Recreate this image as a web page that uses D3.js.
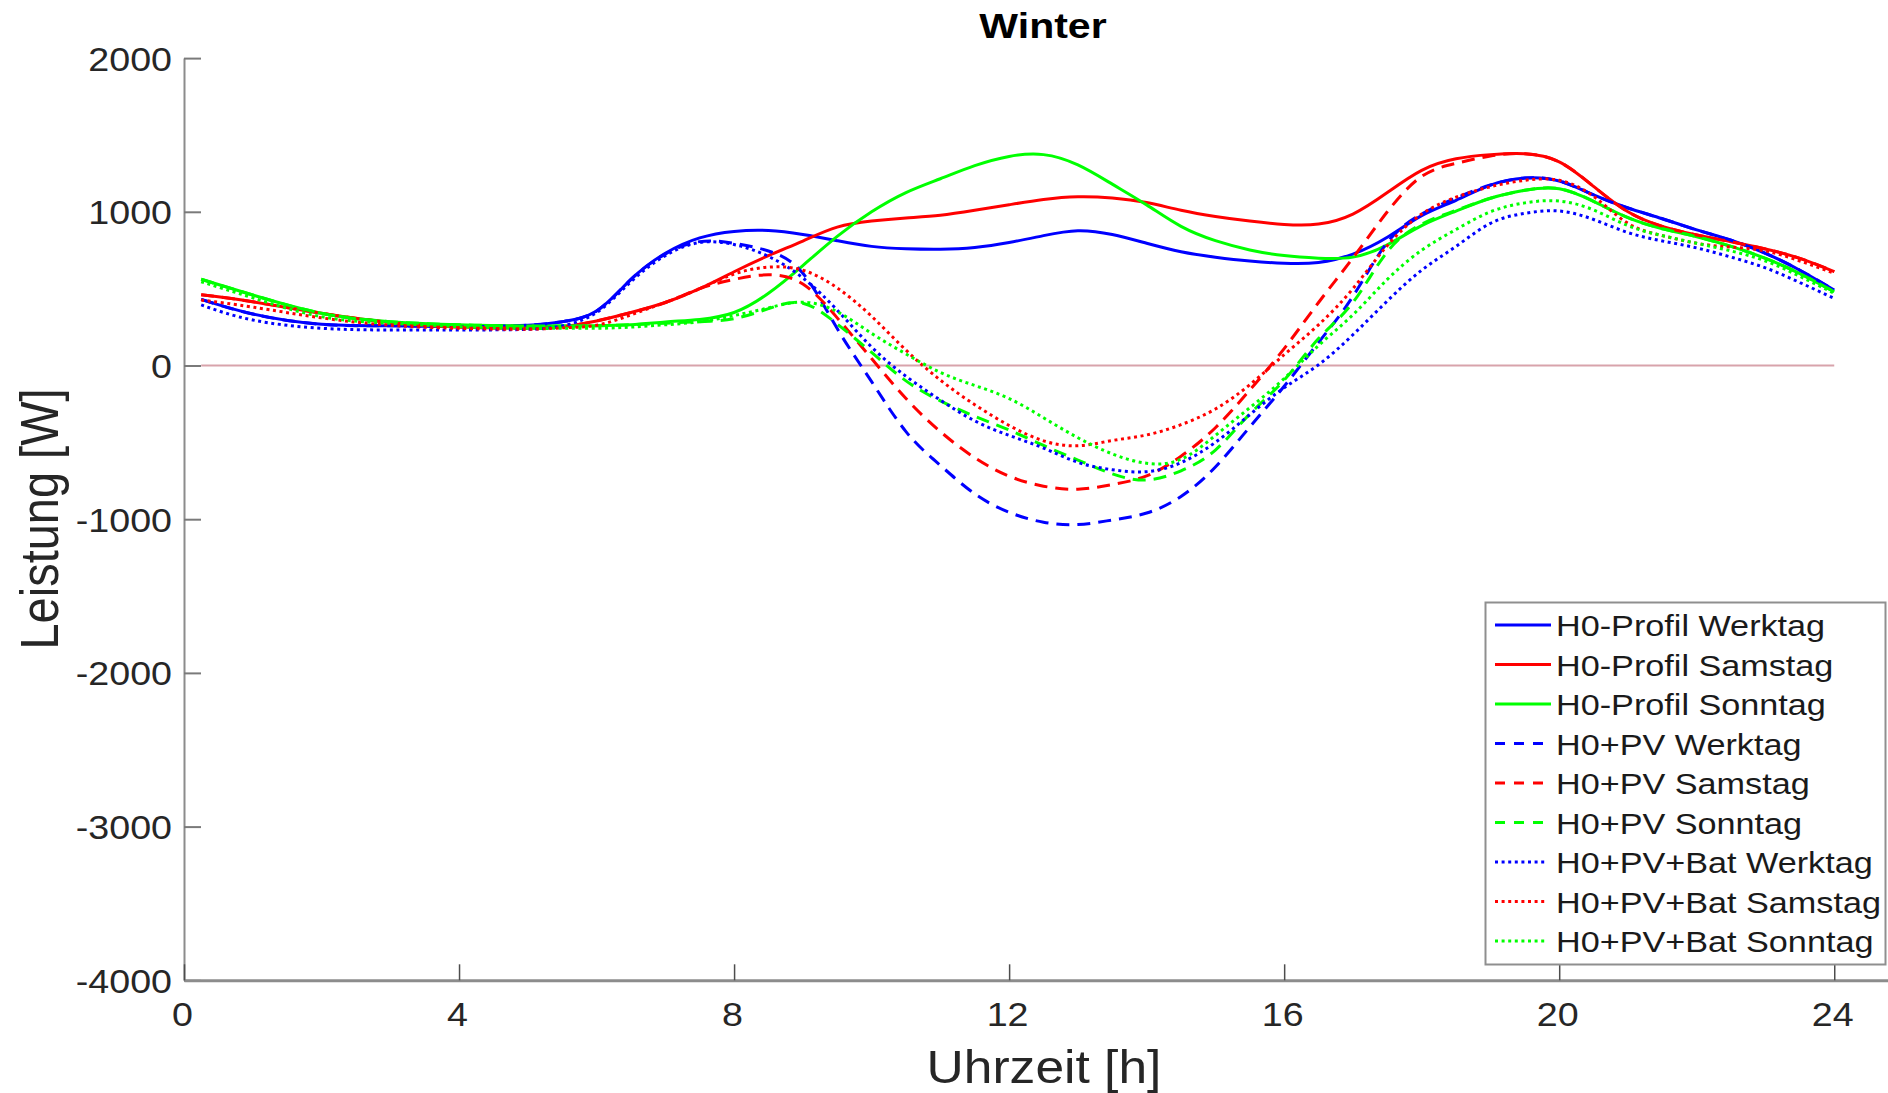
<!DOCTYPE html>
<html>
<head>
<meta charset="utf-8">
<script src="https://cdn.jsdelivr.net/npm/d3@7"></script>
<style>
  html, body { margin: 0; padding: 0; background: #fff; }
  svg { display: block; font-family: "Liberation Sans", Arial, Helvetica, sans-serif; }
</style>
</head>
<body>
<svg id="chart" width="1888" height="1093"></svg>
<script>
// Time of day [h], quarter-hour start to midnight
const hours = [0.25, 1, 2, 3, 4, 5, 5.5, 6, 6.5, 7, 7.5, 8, 8.5, 9, 9.5, 10, 10.5, 11, 11.5, 12,
  12.5, 13, 13.5, 14, 14.5, 15, 15.5, 16, 16.5, 17, 17.5, 18, 18.5, 19, 19.5, 20, 20.5, 21, 21.5, 22,
  22.5, 23, 23.5, 24];

// Standard load profile H0 [W]
const h0Werktag = [430, 335, 268, 259, 253, 262, 285, 355, 560, 730, 830, 872, 878, 852, 812, 775, 760, 757, 768, 800,
  845, 877, 852, 795, 740, 705, 680, 665, 670, 725, 835, 975, 1075, 1174, 1220, 1200, 1110, 1025, 955, 882,
  815, 730, 620, 491];
const h0Samstag = [460, 415, 340, 280, 250, 243, 252, 290, 345, 410, 500, 610, 715, 810, 900, 940, 960, 978, 1010, 1046,
  1080, 1098, 1090, 1060, 1010, 970, 940, 918, 920, 985, 1125, 1270, 1345, 1372, 1378, 1325, 1165, 1000, 905, 849,
  805, 758, 697, 611];
const h0Sonntag = [561, 459, 340, 285, 265, 257, 257, 259, 265, 283, 300, 345, 470, 650, 840, 1000, 1125, 1215, 1300, 1360,
  1372, 1305, 1180, 1045, 905, 812, 752, 715, 698, 705, 785, 910, 1005, 1088, 1140, 1150, 1068, 962, 890, 838,
  775, 697, 598, 480];

// H0 minus PV feed-in [W]
const pvWerktag = [430, 335, 268, 259, 253, 262, 285, 355, 560, 725, 806, 795, 745, 600, 240, -105, -430, -650, -835, -955,
  -1020, -1035, -1005, -960, -852, -660, -400, -135, 150, 450, 800, 985, 1090, 1174, 1220, 1200, 1110, 1025, 955, 882,
  815, 730, 620, 491];
const pvSamstag = [460, 415, 340, 280, 250, 243, 252, 290, 345, 410, 500, 560, 590, 530, 310, 45, -215, -430, -600, -720,
  -785, -805, -775, -718, -590, -405, -160, 110, 410, 700, 1000, 1230, 1315, 1363, 1378, 1325, 1165, 1000, 905, 849,
  805, 758, 697, 611];
const pvSonntag = [561, 459, 340, 285, 265, 257, 257, 259, 265, 275, 285, 305, 370, 405, 270, 85, -100, -230, -330, -420,
  -520, -615, -705, -745, -685, -550, -315, -95, 175, 410, 740, 920, 1010, 1088, 1140, 1150, 1068, 962, 890, 838,
  775, 697, 598, 480];

// H0 minus PV with battery storage [W]
const batWerktag = [394, 296, 242, 231, 231, 235, 258, 345, 545, 715, 800, 787, 710, 570, 360, 120, -70, -225, -360, -455,
  -537, -630, -678, -691, -632, -500, -320, -145, 5, 200, 420, 620, 775, 925, 990, 1005, 950, 865, 810, 765,
  705, 635, 540, 437];
const batSamstag = [426, 380, 310, 262, 242, 236, 245, 262, 330, 410, 500, 595, 640, 620, 505, 320, 100, -95, -255, -390,
  -490, -522, -488, -452, -385, -283, -125, 70, 265, 500, 780, 985, 1095, 1163, 1205, 1205, 1100, 925, 845, 795,
  770, 745, 680, 600];
const batSonntag = [545, 440, 318, 275, 253, 242, 242, 242, 250, 265, 285, 325, 375, 412, 350, 209, 75, -45, -130, -215,
  -340, -470, -575, -636, -610, -455, -275, -85, 130, 330, 560, 750, 885, 1000, 1058, 1070, 1012, 910, 845, 795,
  745, 680, 580, 470];

const seriesNames = [
  "H0-Profil Werktag", "H0-Profil Samstag", "H0-Profil Sonntag",
  "H0+PV Werktag", "H0+PV Samstag", "H0+PV Sonntag",
  "H0+PV+Bat Werktag", "H0+PV+Bat Samstag", "H0+PV+Bat Sonntag"
];
const seriesValues = [h0Werktag, h0Samstag, h0Sonntag, pvWerktag, pvSamstag, pvSonntag, batWerktag, batSamstag, batSonntag];
const xTicks = [0, 4, 8, 12, 16, 20, 24];
const yTicks = [-4000, -3000, -2000, -1000, 0, 1000, 2000];

const colors = ["#0000ff", "#ff0000", "#00ff00"];
const dashes = [null, "13,8", "3,3.6"];

const svg = d3.select("#chart");
const sx = 1.14; // horizontal glyph stretch

const x = d3.scaleLinear().domain([0, 25]).range([184, 1903]);
const y = d3.scaleLinear().domain([-4000, 2000]).range([980.3, 58.1]);

// zero reference line
svg.append("line")
  .attr("x1", x(hours[0])).attr("x2", x(hours[hours.length - 1]))
  .attr("y1", y(0)).attr("y2", y(0))
  .attr("stroke", "#d8a3ab").attr("stroke-width", 2.2);

// axes (MATLAB style, ticks pointing inward)
const yAxis = svg.append("g").attr("transform", `translate(${x(0)},0)`)
  .call(d3.axisLeft(y).tickValues(yTicks).tickSizeInner(-17).tickSizeOuter(0).tickFormat(d => String(d)));
yAxis.select(".domain").attr("stroke", "#8c8c8c").attr("stroke-width", 2);
yAxis.selectAll(".tick line").attr("stroke", "#7a7a7a").attr("stroke-width", 2);
yAxis.selectAll(".tick text")
  .attr("x", null).attr("dy", null)
  .attr("transform", `translate(-12,12) scale(${sx},1)`)
  .attr("text-anchor", "end")
  .attr("fill", "#262626")
  .style("font-size", "33px");

const xAxis = svg.append("g").attr("transform", `translate(0,${y(-4000)})`)
  .call(d3.axisBottom(x).tickValues(xTicks).tickSizeInner(-16).tickSizeOuter(0).tickFormat(d => String(d)));
xAxis.select(".domain").attr("stroke", "#8c8c8c").attr("stroke-width", 3);
xAxis.selectAll(".tick line").attr("stroke", "#4d4d4d").attr("stroke-width", 1.5);
xAxis.selectAll(".tick text")
  .attr("y", null).attr("dy", null)
  .attr("transform", `translate(-2,46) scale(${sx},1)`)
  .attr("text-anchor", "middle")
  .attr("fill", "#262626")
  .style("font-size", "33px");

// data lines
const line = d3.line()
  .x((d, i) => x(hours[i]))
  .y(d => y(d))
  .curve(d3.curveNatural);

seriesValues.forEach((vals, k) => {
  svg.append("path")
    .datum(vals)
    .attr("d", line)
    .attr("fill", "none")
    .attr("stroke", colors[k % 3])
    .attr("stroke-width", 3)
    .attr("stroke-linejoin", "round")
    .attr("stroke-dasharray", dashes[Math.floor(k / 3)]);
});

// title
svg.append("text")
  .attr("transform", `translate(1043,38) scale(${sx},1)`)
  .attr("text-anchor", "middle")
  .attr("font-weight", "bold")
  .attr("fill", "#000")
  .style("font-size", "36px")
  .text("Winter");

// axis labels
svg.append("text")
  .attr("transform", `translate(1044,1083) scale(1.12,1)`)
  .attr("text-anchor", "middle")
  .attr("fill", "#262626")
  .style("font-size", "46px")
  .text("Uhrzeit [h]");

svg.append("text")
  .attr("transform", `translate(58,519) scale(1.15,1) rotate(-90)`)
  .attr("text-anchor", "middle")
  .attr("fill", "#262626")
  .style("font-size", "47px")
  .text("Leistung [W]");

// legend
const legend = svg.append("g");
legend.append("rect")
  .attr("x", 1485.5).attr("y", 602.5).attr("width", 400).attr("height", 362)
  .attr("fill", "#fff").attr("stroke", "#8f8f8f").attr("stroke-width", 2);

seriesNames.forEach((name, k) => {
  const cy = 625 + k * 39.5;
  const style = Math.floor(k / 3);
  legend.append("line")
    .attr("x1", 1495).attr("x2", style === 2 ? 1547 : 1551)
    .attr("y1", cy).attr("y2", cy)
    .attr("stroke", colors[k % 3])
    .attr("stroke-width", 3)
    .attr("stroke-dasharray", style === 1 ? "10,9" : dashes[style]);
  legend.append("text")
    .attr("transform", `translate(1556,${cy + 11}) scale(${sx},1)`)
    .attr("fill", "#1a1a1a")
    .style("font-size", "30px")
    .text(name);
});
</script>
</body>
</html>
